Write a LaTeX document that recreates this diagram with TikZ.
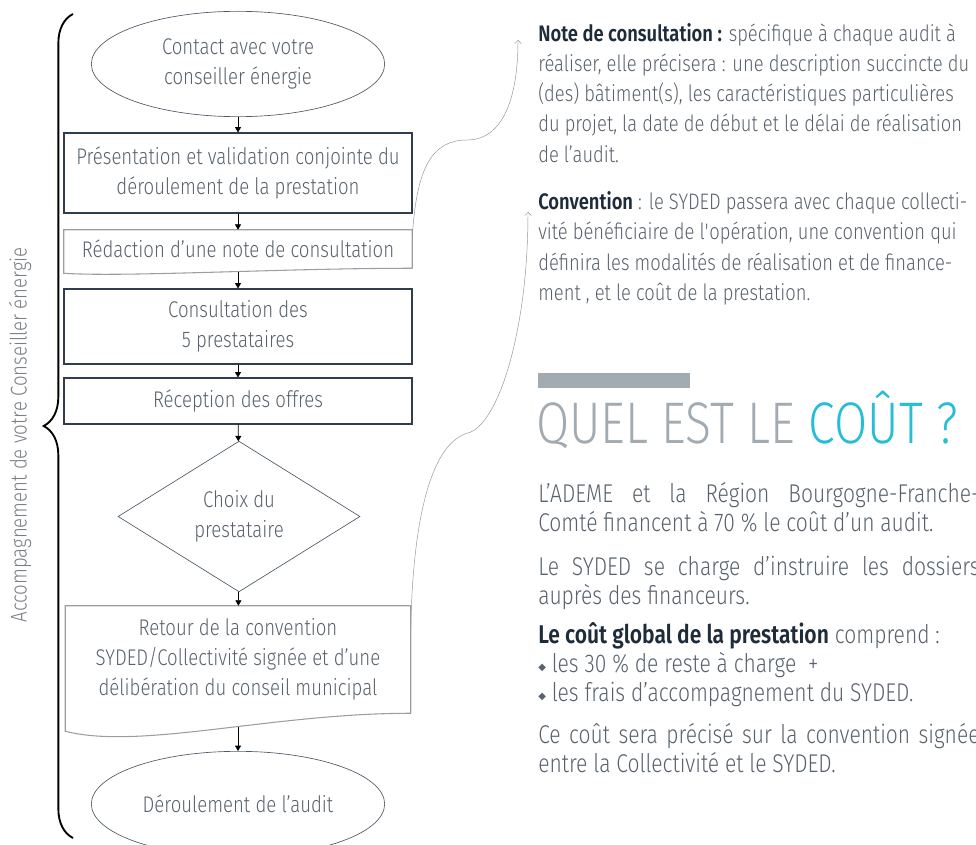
\documentclass[tikz,border=0pt]{standalone}
\usepackage{fontspec}
\IfFontExistsTF{Fira Sans Light}{\setmainfont{Fira Sans Light}[FakeStretch=0.82]}{\setmainfont{Fira Sans}[FakeStretch=0.82]}
\IfFontExistsTF{Fira Sans SemiBold}{\newfontfamily\strongfont{Fira Sans SemiBold}[FakeStretch=0.82]}{\newfontfamily\strongfont{Fira Sans}[FakeStretch=0.82, FakeBold=1.5]}
\newfontfamily\symfont{DejaVu Sans}
\usetikzlibrary{arrows.meta, positioning, shapes, calc, decorations.pathreplacing}
\definecolor{txtgray}{HTML}{59626C}
\definecolor{boxline}{HTML}{2F3D4C}
\definecolor{doclinecol}{HTML}{9A9EA3}
\definecolor{titlegray}{HTML}{A2AAB2}
\definecolor{coutcyan}{HTML}{27BDD6}
\definecolor{strongtxt}{HTML}{1E2C3A}
\definecolor{sidegray}{HTML}{7A7F85}
\newcommand\flowfont{\fontsize{17}{22.5}\selectfont}
\newcommand\notefont{\fontsize{16.8}{22.7}\selectfont}
\newcommand\coutfont{\fontsize{19.25}{21.75}\selectfont}
\newcommand\titlefont{\fontsize{44}{50}\selectfont}
\newcommand\sidefont{\fontsize{17}{18}\selectfont}
\newcommand\bul{{\symfont\fontsize{7.5}{7.5}\selectfont\raisebox{1.5pt}{◆}}}

\begin{document}
\begin{tikzpicture}[x=0.75pt, y=-0.75pt,
      every node/.style={font=\flowfont, text=txtgray},
      startstop/.style={ellipse, draw=boxline!85, line width=0.5pt, minimum width=220pt, minimum height=79pt, inner sep=0pt, align=center},
      stepbox/.style={rectangle, draw=boxline, line width=0.8pt, minimum width=261pt, align=center},
      docbox/.style={rectangle, inner sep=0pt, align=center},
      decision/.style={diamond, draw=boxline!85, line width=0.5pt, minimum width=181.5pt, minimum height=113pt, inner sep=0pt, align=center},
      docline/.style={draw=doclinecol, line width=0.8pt},
      arr/.style={-{Triangle[length=4pt, width=4.5pt]}, line width=0.5pt, black},
      link/.style={-{Straight Barb[length=2.5pt, width=5pt]}, line width=0.35pt, gray!85},
      textblock/.style={anchor=base west, inner sep=0pt, align=left},
      costblock/.style={anchor=base west, inner sep=0pt, text width=331pt, align=justify, font=\coutfont}
    ]
      \useasboundingbox (0,0) rectangle (976,845);

      % Flowchart
      \node[startstop] (contact) at (238,64) {Contact avec votre\\conseiller énergie};
      \node[stepbox, minimum height=60pt] (presentation) at (238,173) {Présentation et validation conjointe du\\déroulement de la prestation};
      \node[docbox, minimum width=261pt, minimum height=28.5pt] (redaction) at (238,249) {Rédaction d’une note de consultation};
      \node[stepbox, minimum height=56.25pt] (consultation) at (238,326.5) {Consultation des\\5 prestataires};
      \node[stepbox, minimum height=34.5pt] (reception) at (238,401) {Réception des offres};
      \node[decision] (choix) at (239,516.5) {Choix du\\prestataire};
      \node[docbox, minimum width=258.75pt, minimum height=80.25pt] (retour) at (238,659.5) {Retour de la convention\\SYDED/Collectivité signée et d’une\\délibération du conseil municipal};
      \node[startstop] (audit) at (238,804) {Déroulement de l’audit};

      % Document outlines
      \draw[docline] (redaction.south east) -- (redaction.north east) -- (redaction.north west) -- ([yshift=-3.75pt]redaction.south west)
        .. controls +(60,4) and +(-130,0) .. (redaction.south east);
      \draw[docline] (retour.south east) -- (retour.north east) -- (retour.north west) -- ([yshift=-13.5pt]retour.south west)
        .. controls +(75,19) and +(-140,0) .. (retour.south east);

      % Arrows
      \draw[arr] (contact) -- (presentation);
      \draw[arr] (presentation) -- (redaction);
      \draw[arr] ([yshift=-3pt]redaction.south) -- (consultation);
      \draw[arr] (consultation) -- (reception);
      \draw[arr] (reception) -- (choix);
      \draw[arr] (choix) -- (retour);
      \draw[arr] ([yshift=-10.5pt]retour.south) -- (audit);

      % Brace and side label
      \draw[line width=1.4pt, decorate, decoration={brace, amplitude=22pt}] (73,838) -- (73,14);
      \node[rotate=90, font=\sidefont, text=sidegray] (side) at (20,435) {Accompagnement de votre Conseiller énergie};

      % Notes (anchored on the baseline of their last line)
      \node[textblock, font=\notefont] (note) at (538,162.2) {{\strongfont\color{strongtxt}Note de consultation :} spécifique à chaque audit à\\réaliser, elle précisera : une description succincte du\\(des) bâtiment(s), les caractéristiques particulières\\du projet, la date de début et le délai de réalisation\\de l’audit.};
      \node[textblock, font=\notefont] (convention) at (538,300.5) {{\strongfont\color{strongtxt}Convention} : le SYDED passera avec chaque collecti-\\vité bénéficiaire de l\textquotesingle opération, une convention qui\\définira les modalités de réalisation et de finance-\\ment , et le coût de la prestation.};

      \coordinate (bend1) at (467,140);
      \coordinate (notetip) at (518,40);
      \coordinate (bend2) at (468,433);
      \coordinate (convtip) at (528,212);
      \draw[link] ([yshift=-6pt]redaction.north east) .. controls +(4,-70) and +(-35,0) .. (bend1) .. controls +(35,0) and +(0,60) .. (notetip);
      \draw[link] ([yshift=-15pt]retour.north east) .. controls +(3,-130) and +(-30,8) .. (bend2) .. controls +(30,-8) and +(0,120) .. (convtip);

      % Cost
      \node[fill=titlegray, anchor=north west, inner sep=0pt, minimum width=114pt, minimum height=11.25pt] (bar) at (538,373) {};
      \node[textblock, font=\titlefont, text=titlegray] (title) at (536,443) {QUEL EST LE \textcolor{coutcyan}{COÛT ?}};
      \node[costblock] (ademe) at (538,502.7) {L’ADEME et la Région Bourgogne-Franche-\linebreak Comté financent à 70~\% le coût d’un audit.};
      \node[costblock] (syded) at (538,575) {Le SYDED se charge d’instruire les dossiers\linebreak auprès des financeurs.};
      \node[textblock, font=\coutfont] (global) at (538,701.7) {{\strongfont\color{strongtxt}Le coût global de la prestation} comprend :\\\bul{} les 30~\% de reste à charge~~+\\\bul{} les frais d’accompagnement du SYDED.};
      \node[costblock] (signee) at (538,743) {Ce coût sera précisé sur la convention signée\linebreak entre la Collectivité et le SYDED.};
    \end{tikzpicture}
\end{document}
